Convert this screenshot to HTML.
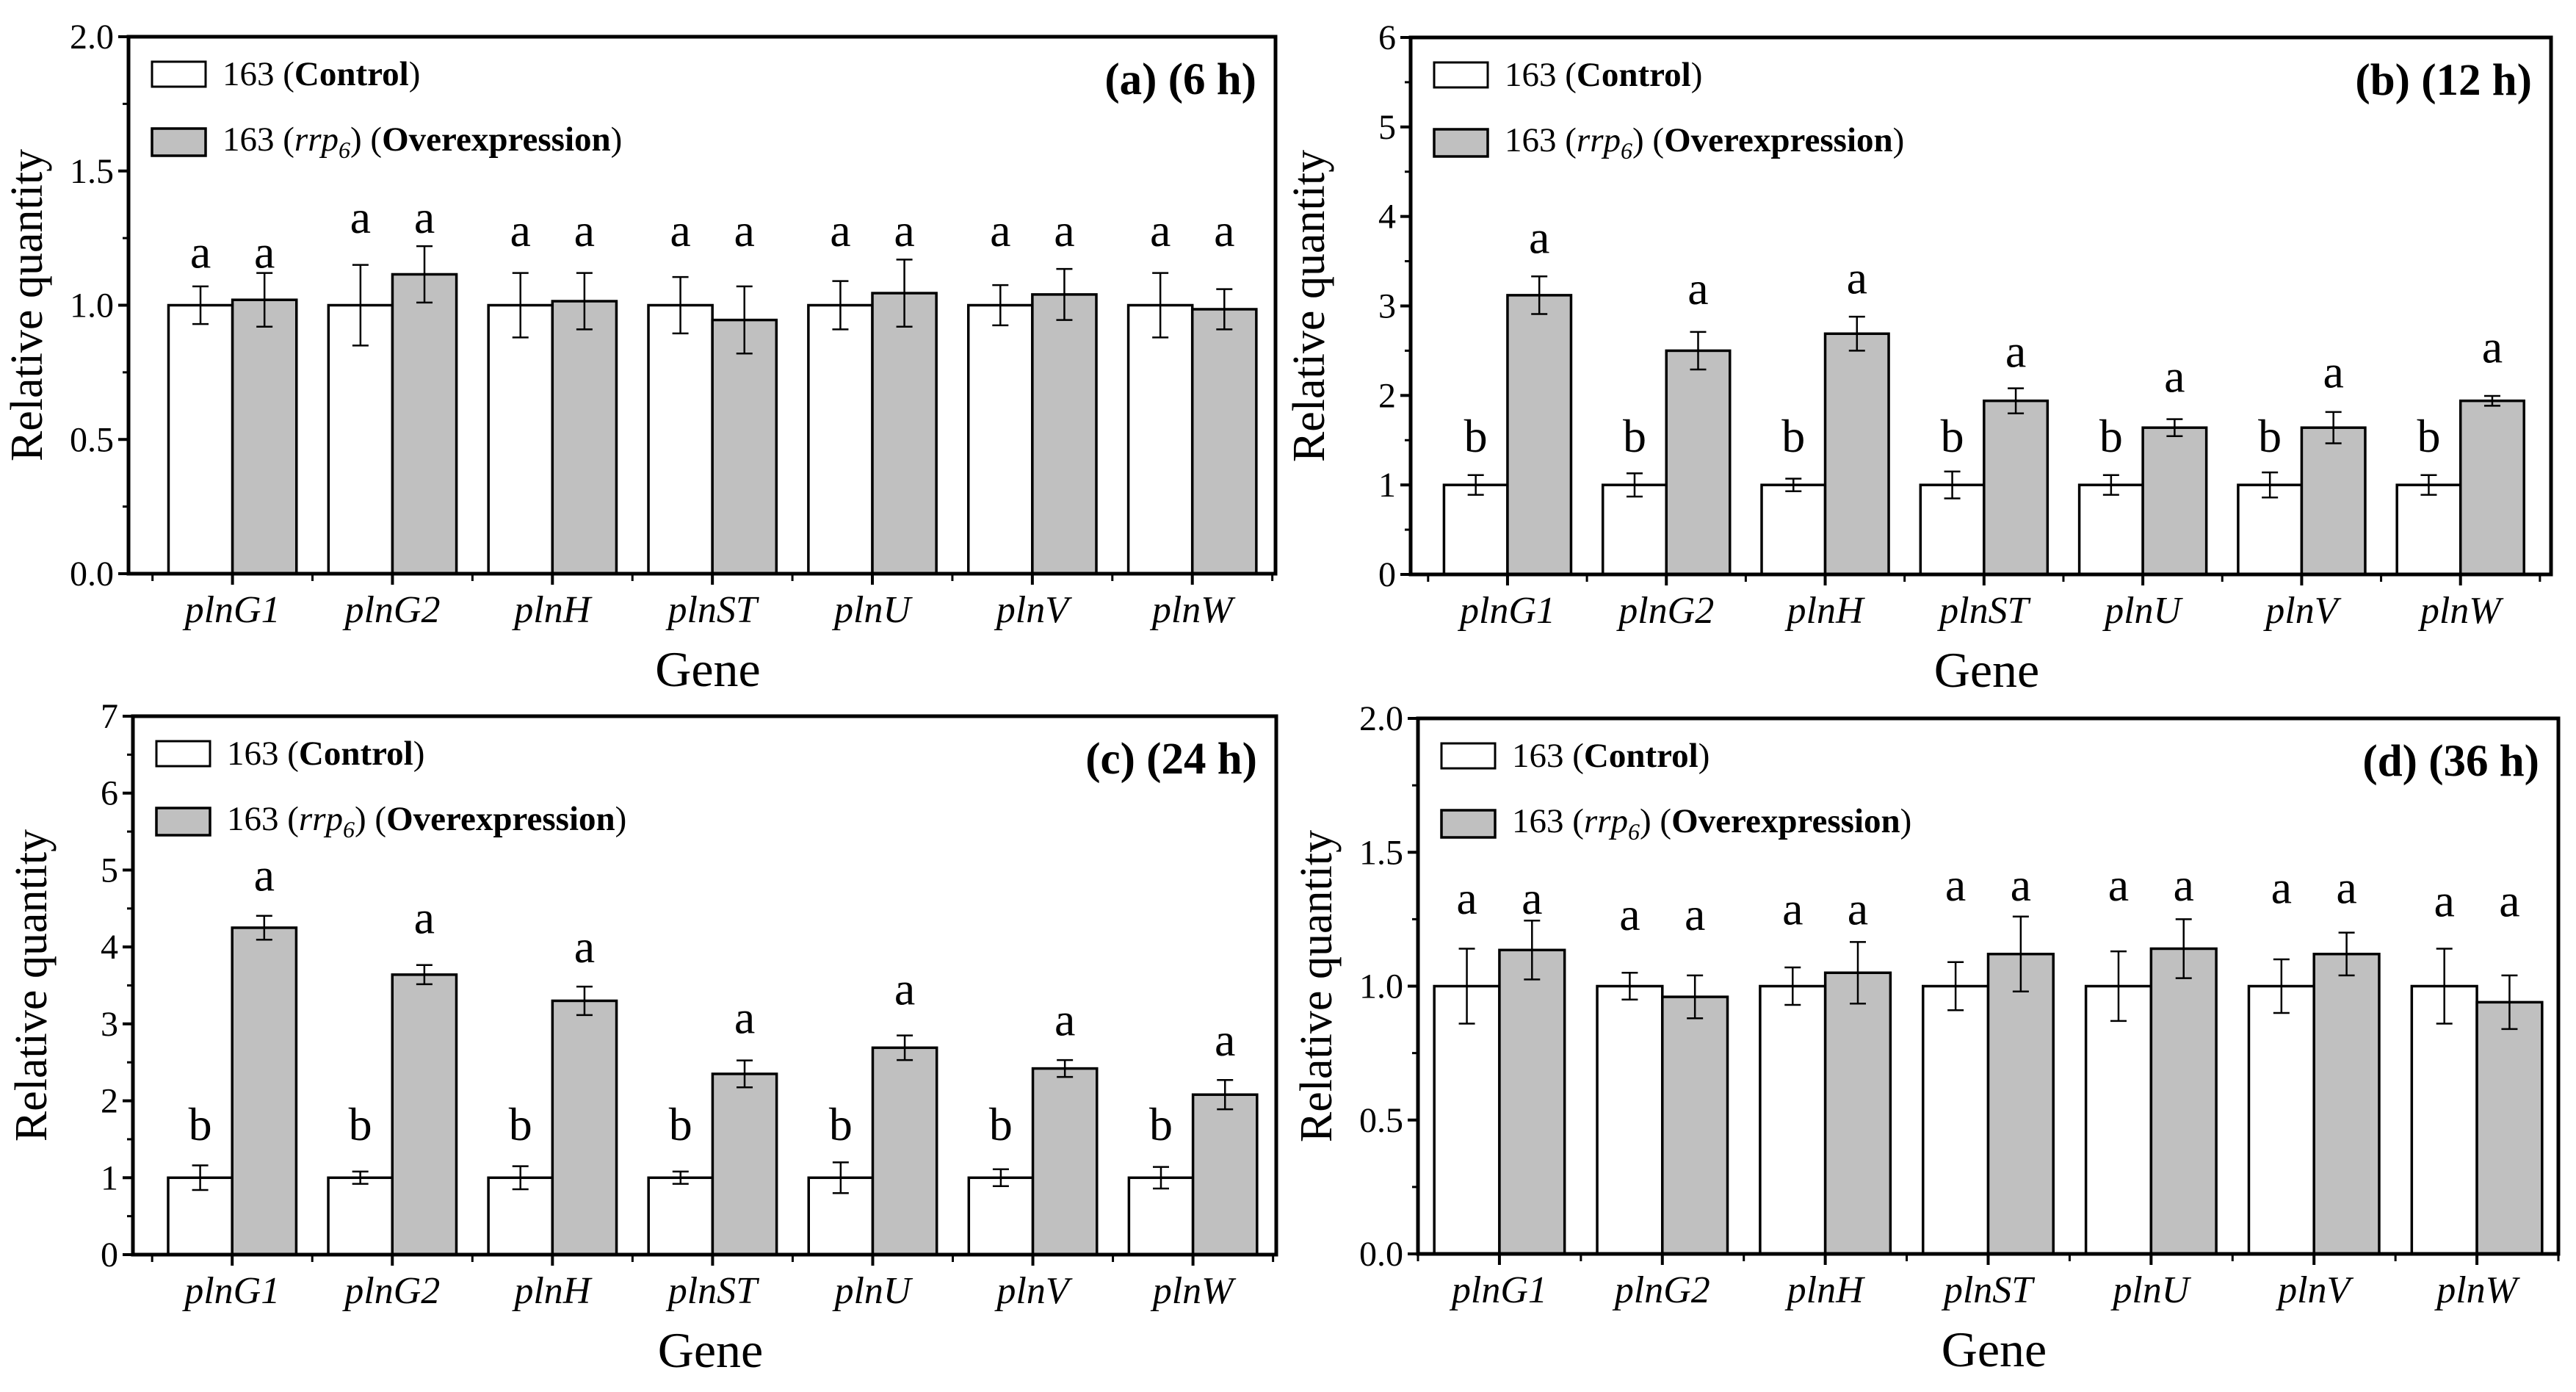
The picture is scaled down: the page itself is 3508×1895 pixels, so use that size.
<!DOCTYPE html>
<html><head><meta charset="utf-8"><title>Relative quantity of pln genes</title>
<style>
html,body{margin:0;padding:0;background:#fff;}
svg{display:block;}
text{font-family:"Liberation Serif","Times New Roman",serif;fill:#000;}
</style></head>
<body>
<svg id="fig" width="3508" height="1895" viewBox="0 0 3508 1895" xmlns="http://www.w3.org/2000/svg"></svg>
<script>
const genes = ["plnG1","plnG2","plnH","plnST","plnU","plnV","plnW"];

// Panel (a) 6 h
const aCtrl = [1,1,1,1,1,1,1];
const aCtrlErr = [0.07,0.15,0.12,0.105,0.09,0.075,0.12];
const aOver = [1.02,1.115,1.015,0.945,1.045,1.04,0.985];
const aOverErr = [0.10,0.105,0.105,0.125,0.125,0.095,0.075];
const aCtrlLetters = ["a","a","a","a","a","a","a"];
const aOverLetters = ["a","a","a","a","a","a","a"];
const aCtrlLetterY = [1.14,1.27,1.22,1.22,1.22,1.22,1.22];
const aOverLetterY = [1.14,1.27,1.22,1.22,1.22,1.22,1.22];
const aTicks = ["0.0","0.5","1.0","1.5","2.0"];

// Panel (b) 12 h
const bCtrl = [1,1,1,1,1,1,1];
const bCtrlErr = [0.11,0.13,0.07,0.15,0.11,0.14,0.11];
const bOver = [3.12,2.50,2.69,1.94,1.64,1.64,1.94];
const bOverErr = [0.21,0.21,0.19,0.14,0.095,0.175,0.055];
const bCtrlLetters = ["b","b","b","b","b","b","b"];
const bOverLetters = ["a","a","a","a","a","a","a"];
const bCtrlLetterY = [1.37,1.37,1.37,1.37,1.37,1.37,1.37];
const bOverLetterY = [3.59,3.02,3.14,2.32,2.04,2.09,2.37];
const bTicks = ["0","1","2","3","4","5","6"];

// Panel (c) 24 h
const cCtrl = [1,1,1,1,1,1,1];
const cCtrlErr = [0.16,0.08,0.15,0.08,0.2,0.11,0.14];
const cOver = [4.25,3.64,3.30,2.35,2.69,2.42,2.08];
const cOverErr = [0.155,0.125,0.185,0.175,0.16,0.11,0.19];
const cCtrlLetters = ["b","b","b","b","b","b","b"];
const cOverLetters = ["a","a","a","a","a","a","a"];
const cCtrlLetterY = [1.49,1.49,1.49,1.49,1.49,1.49,1.49];
const cOverLetterY = [4.73,4.18,3.80,2.88,3.25,2.85,2.59];
const cTicks = ["0","1","2","3","4","5","6","7"];

// Panel (d) 36 h
const dCtrl = [1,1,1,1,1,1,1];
const dCtrlErr = [0.14,0.05,0.07,0.09,0.13,0.10,0.14];
const dOver = [1.135,0.96,1.05,1.12,1.14,1.12,0.94];
const dOverErr = [0.11,0.08,0.115,0.14,0.11,0.08,0.10];
const dCtrlLetters = ["a","a","a","a","a","a","a"];
const dOverLetters = ["a","a","a","a","a","a","a"];
const dCtrlLetterY = [1.27,1.21,1.23,1.32,1.32,1.31,1.26];
const dOverLetterY = [1.27,1.21,1.23,1.32,1.32,1.31,1.26];
const dTicks = ["0.0","0.5","1.0","1.5","2.0"];

const NS = "http://www.w3.org/2000/svg";
const svg = document.getElementById("fig");
function mk(tag, attrs, parent){
  const e = document.createElementNS(NS, tag);
  for (const k in attrs) e.setAttribute(k, attrs[k]);
  (parent||svg).appendChild(e);
  return e;
}

function panel(p){
  const g = mk("g", {});
  
  
  const L=p.left, R=p.right, T=p.top, B=p.bottom;
  const ymax = parseFloat(p.ticks[p.ticks.length-1]);
  const ys = v => B - (v/ymax)*(B-T);
  const xs = u => L + (u - p.x0)/(p.x1 - p.x0)*(R-L);
  const step = xs(1)-xs(0);
  const bw = 0.4*step;

  for (let i=0;i<genes.length;i++){
    const c = xs(i);
    const r1 = mk("rect",{x:c-bw,y:ys(p.ctrl[i]),width:bw,height:B-ys(p.ctrl[i]),fill:"#fff",stroke:"#000","stroke-width":3.5},g);
    
    
    const r2 = mk("rect",{x:c,y:ys(p.over[i]),width:bw,height:B-ys(p.over[i]),fill:"#c0c0c0",stroke:"#000","stroke-width":3.5},g);
    
    
    [[c-bw/2,p.ctrl[i],p.ctrlErr[i],'control'],[c+bw/2,p.over[i],p.overErr[i],'overexpression']].forEach(([x,v,e,nm])=>{
      const eg = mk("g",{stroke:"#000","stroke-width":2.5},g);
      
      
      mk("line",{x1:x,x2:x,y1:ys(v+e),y2:ys(v-e)},eg);
      mk("line",{x1:x-11,x2:x+11,y1:ys(v+e),y2:ys(v+e)},eg);
      mk("line",{x1:x-11,x2:x+11,y1:ys(v-e),y2:ys(v-e)},eg);
    });
    const t1 = mk("text",{x:c-bw/2,y:ys(p.ctrlLY[i]),"font-size":64,"text-anchor":"middle"},g);
    t1.textContent = p.ctrlL[i];
    
    
    const t2 = mk("text",{x:c+bw/2,y:ys(p.overLY[i]),"font-size":64,"text-anchor":"middle"},g);
    t2.textContent = p.overL[i];
    
    
    mk("line",{x1:c,x2:c,y1:B,y2:B+15,stroke:"#000","stroke-width":4},g);
    const xl = mk("text",{x:c,y:B+66,"font-size":52,"font-style":"italic","text-anchor":"middle"},g);
    xl.textContent = genes[i];
    
    
  }
  for (let i=0;i<=7;i++){
    const x = xs(i-0.5);
    if (x < L-1 || x > R+1) continue;
    mk("line",{x1:x,x2:x,y1:B,y2:B+10,stroke:"#000","stroke-width":3},g);
  }
  const n = p.ticks.length-1;
  for (let k=0;k<=n;k++){
    const v = parseFloat(p.ticks[k]);
    const y = ys(v);
    mk("line",{x1:L-14,x2:L,y1:y,y2:y,stroke:"#000","stroke-width":4},g);
    const tl = mk("text",{x:L-20,y:y+16,"font-size":48,"text-anchor":"end"},g);
    tl.textContent = p.ticks[k];
    
    
    if (k<n){
      const ym = ys(v + (parseFloat(p.ticks[1])-parseFloat(p.ticks[0]))/2);
      mk("line",{x1:L-8,x2:L,y1:ym,y2:ym,stroke:"#000","stroke-width":3},g);
    }
  }
  const fr = mk("rect",{x:L,y:T,width:R-L,height:B-T,fill:"none",stroke:"#000","stroke-width":5},g);
  
  
  const yt = mk("text",{x:0,y:0,"font-size":62,"text-anchor":"middle",transform:`translate(${L-118},${(T+B)/2}) rotate(-90)`},g);
  yt.textContent = "Relative quantity";
  
  
  const xt = mk("text",{x:(L+R)/2+8,y:B+153,"font-size":68,"text-anchor":"middle"},g);
  xt.textContent = "Gene";
  
  
  const pl = mk("text",{x:R-26,y:T+78,"font-size":61,"font-weight":"bold","text-anchor":"end"},g);
  pl.textContent = p.label;
  
  
  const lg = mk("g",{},g);
  
  
  const bx = L+32;
  const e1 = mk("g",{},lg);
  
  
  mk("rect",{x:bx,y:T+34,width:73,height:34,fill:"#fff",stroke:"#000","stroke-width":3},e1);
  const lt1 = mk("text",{x:bx+96,y:T+66,"font-size":47},e1);
  lt1.innerHTML = '163 (<tspan font-weight="bold">Control</tspan>)';
  const e2 = mk("g",{},lg);
  
  
  mk("rect",{x:bx,y:T+125,width:73,height:37,fill:"#c0c0c0",stroke:"#000","stroke-width":3.5},e2);
  const lt2 = mk("text",{x:bx+96,y:T+155,"font-size":47},e2);
  lt2.innerHTML = '163 (<tspan font-style="italic">rrp</tspan><tspan font-style="italic" font-size="32" dy="10">6</tspan><tspan dy="-10">) (</tspan><tspan font-weight="bold">Overexpression</tspan>)';
}

panel({id:"a",label:"(a) (6 h)",left:175,right:1737,top:50,bottom:781,x0:-0.65,x1:6.52,ticks:aTicks,
  ctrl:aCtrl,ctrlErr:aCtrlErr,over:aOver,overErr:aOverErr,ctrlL:aCtrlLetters,overL:aOverLetters,ctrlLY:aCtrlLetterY,overLY:aOverLetterY});
panel({id:"b",label:"(b) (12 h)",left:1921,right:3474,top:51,bottom:782,x0:-0.61,x1:6.57,ticks:bTicks,
  ctrl:bCtrl,ctrlErr:bCtrlErr,over:bOver,overErr:bOverErr,ctrlL:bCtrlLetters,overL:bOverLetters,ctrlLY:bCtrlLetterY,overLY:bOverLetterY});
panel({id:"c",label:"(c) (24 h)",left:181,right:1738,top:975,bottom:1708,x0:-0.62,x1:6.52,ticks:cTicks,
  ctrl:cCtrl,ctrlErr:cCtrlErr,over:cOver,overErr:cOverErr,ctrlL:cCtrlLetters,overL:cOverLetters,ctrlLY:cCtrlLetterY,overLY:cOverLetterY});
panel({id:"d",label:"(d) (36 h)",left:1931,right:3484,top:978,bottom:1707,x0:-0.5,x1:6.5,ticks:dTicks,
  ctrl:dCtrl,ctrlErr:dCtrlErr,over:dOver,overErr:dOverErr,ctrlL:dCtrlLetters,overL:dOverLetters,ctrlLY:dCtrlLetterY,overLY:dOverLetterY});
</script>
</body></html>
